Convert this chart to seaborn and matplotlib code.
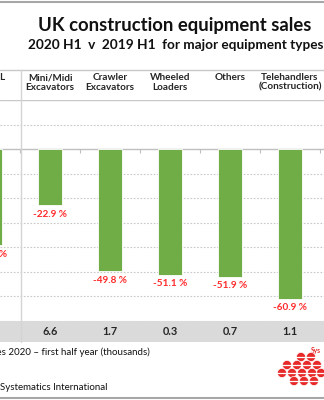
import matplotlib
matplotlib.use("Agg")
import matplotlib.pyplot as plt
import matplotlib.transforms as mtransforms
from matplotlib.patches import Circle, Rectangle
from matplotlib.lines import Line2D
import seaborn as sns
import pandas as pd

categories = ["TOTAL", "Mini/Midi\nExcavators", "Crawler\nExcavators", "Wheeled\nLoaders",
              "Others", "Telehandlers\n(Construction)"]
change_pct = [-39.2, -22.9, -49.8, -51.1, -51.9, -60.9]
sales_2020 = [None, 6.6, 1.7, 0.3, 0.7, 1.1]
y_ticks = [20, 10, 0, -10, -20, -30, -40, -50, -60, -70]

sns.set_theme(style="white")
plt.rcParams['font.family'] = ['Lato', 'DejaVu Sans']

W, H = 324, 400
fig = plt.figure(figsize=(W / 100, H / 100), dpi=100)
fig.patch.set_facecolor("white")

def fy(p):  # pixel y from top -> figure fraction
    return (H - p) / H

def fx(p):
    return p / W

# gray row behind everything
fig.patches.append(Rectangle((0, fy(342)), 1, fy(321) - fy(342), transform=fig.transFigure,
                             facecolor="#dadada", edgecolor="none", zorder=-5))

# axes: +20 at y=100 px, -70 at y=321 px
ax = fig.add_axes([0, fy(321), 1, fy(100) - fy(321)])
df = pd.DataFrame({"cat": categories, "val": change_pct})
sns.barplot(data=df, x="cat", y="val", ax=ax, color="#70ad47", width=0.4,
            edgecolor="white", linewidth=0.6, saturation=1, zorder=3)
ax.set_xlim(10 / 60, (W + 10) / 60)
ax.set_ylim(-70, 20)
ax.set_xlabel("")
ax.set_ylabel("")
ax.set_xticks([])
ax.set_yticks([])
for s in ax.spines.values():
    s.set_visible(False)
ax.patch.set_alpha(0)

# gridlines
for t in y_ticks:
    if t == 0:
        ax.axhline(t, color="#bfbfbf", lw=1.0, zorder=2)
    elif t == 20:
        ax.axhline(t, color="#c8c8c8", lw=1.0, zorder=2)
    else:
        ax.axhline(t, color="#c8c8c8", lw=0.8, ls=(0, (1.5, 1.5)), zorder=1)

# tick marks at category boundaries on zero line
bounds = [i + 0.5 for i in range(len(categories))]
ax.plot(bounds, [0] * len(bounds), ls="none", marker=3, ms=3, color="#bfbfbf",
        mew=0.8, zorder=2, clip_on=False)

# percentage labels
for i, v in enumerate(change_pct):
    ax.annotate(f"{v:.1f} %", (i, v), xytext=(0, -3), textcoords="offset points",
                ha="center", va="top", color="#ff2a2a", fontsize=7.2, fontweight="bold",
                annotation_clip=False)

blend = mtransforms.blended_transform_factory(ax.transData, fig.transFigure)

# header labels (top aligned)
for i, c in enumerate(categories):
    ax.text(i, fy(73.5), c, transform=blend, ha="center", va="top", fontsize=7.2,
            fontweight="bold", color="#262626", linespacing=1.05, clip_on=False)

# sales values in gray row
for i, s in enumerate(sales_2020):
    if s is not None:
        ax.text(i, fy(331.5), f"{s:.1f}", transform=blend, ha="center", va="center",
                fontsize=7.8, fontweight="bold", color="#262626", zorder=10, clip_on=False)

# structural lines
fig.add_artist(Line2D([0, 1], [fy(70), fy(70)], transform=fig.transFigure, color="#c8c8c8", lw=1.0))
fig.add_artist(Line2D([fx(20.5), fx(20.5)], [fy(342), fy(70)], transform=fig.transFigure,
                      color="#d4d4d4", lw=1.0))
fig.add_artist(Line2D([0, 1], [fy(2), fy(2)], transform=fig.transFigure, color="#a6a6a6", lw=1.5))
fig.add_artist(Line2D([0, 1], [fy(397.5), fy(397.5)], transform=fig.transFigure, color="#a6a6a6", lw=1.5))

# titles
fig.text(fx(175), fy(25), "UK construction equipment sales", ha="center", va="center",
         fontsize=13.3, fontweight="bold", color="#111111")
fig.text(fx(176), fy(45), "2020 H1  v  2019 H1  for major equipment types", ha="center",
         va="center", fontsize=9.8, fontweight="bold", color="#111111")

# footnotes
fig.text(fx(150), fy(352), "Sales 2020 \u2013 first half year (thousands)", ha="right", va="center",
         fontsize=7.0, color="#111111")
fig.text(fx(0), fy(388), "Systematics International", ha="left", va="center",
         fontsize=7.0, color="#111111")

# logo
logo_centers = [(301, 357), (311, 357),
                (287, 365), (297, 365), (307, 365), (317, 365),
                (282, 373), (292, 373), (302, 373), (312, 373), (321, 373),
                (294, 381), (304, 381), (314, 381)]
for (cx, cy) in logo_centers:
    fig.patches.append(Circle((cx, H - cy), 4.6, transform=None, facecolor="#e8292a",
                              edgecolor="white", linewidth=0.5, zorder=5))
    fig.add_artist(Line2D([cx - 5, cx + 5], [H - cy, H - cy], transform=None,
                          color="white", lw=0.9, zorder=6))
fig.text(fx(311), fy(350), "Sys", ha="left", va="center", fontsize=4.8, color="#e8292a",
         fontweight="bold")

fig.savefig("out.png", dpi=100, facecolor="white")
